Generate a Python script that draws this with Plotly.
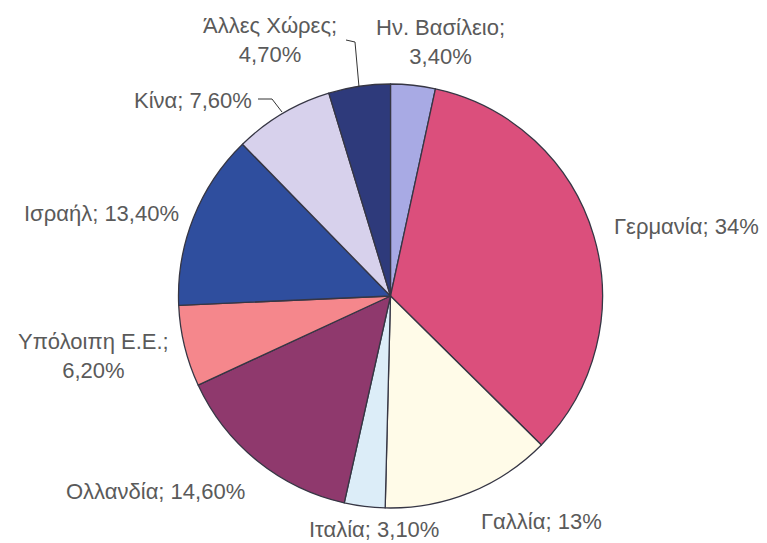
import plotly.graph_objects as go

countries = ["Ην. Βασίλειο", "Γερμανία", "Γαλλία", "Ιταλία", "Ολλανδία",
             "Υπόλοιπη Ε.Ε.", "Ισραήλ", "Κίνα", "Άλλες Χώρες"]
shares = [3.4, 34, 13, 3.1, 14.6, 6.2, 13.4, 7.6, 4.7]
share_labels = ["3,40%", "34%", "13%", "3,10%", "14,60%", "6,20%", "13,40%", "7,60%", "4,70%"]
colors = ["#a8aae4", "#db4f7c", "#fffbe8", "#dcedf8", "#8f396d",
          "#f5878c", "#2f4e9e", "#d7d1ec", "#2e3a7b"]

W, H = 767, 543
OFF = 8  # page body margin


def fx(x):
    return (x - OFF) / W


def fy(y):
    return 1 - (y - OFF) / H


fig = go.Figure(go.Pie(
    labels=countries, values=shares, sort=False, direction="clockwise",
    rotation=0, marker=dict(colors=colors, line=dict(color="#363644", width=1.3)),
    textinfo="none", hoverinfo="label+percent", showlegend=False,
    domain=dict(x=[fx(178), fx(603)], y=[fy(508), fy(84)]),
))

# label placements (pixel centres) and line breaks
label_pos = {
    "Ην. Βασίλειο": (440, 42, True),
    "Γερμανία": (686, 227, False),
    "Γαλλία": (541, 521, False),
    "Ιταλία": (374, 529, False),
    "Ολλανδία": (155, 491, False),
    "Υπόλοιπη Ε.Ε.": (93, 356, True),
    "Ισραήλ": (101, 214, False),
    "Κίνα": (193, 100, False),
    "Άλλες Χώρες": (270, 40, True),
}
font = dict(family="Liberation Sans, Arial, sans-serif", size=22, color="#5a5a5a")
for c, s in zip(countries, share_labels):
    x, y, br = label_pos[c]
    txt = f"{c};<br>{s}" if br else f"{c}; {s}"
    fig.add_annotation(x=fx(x), y=fy(y), xref="paper", yref="paper",
                       xanchor="center", yanchor="middle",
                       text=txt, showarrow=False, font=font, align="center")


# leader lines
def px_path(pts):
    return "M " + " L ".join(f"{fx(x)},{fy(y)}" for x, y in pts)


for pts in ([(346, 40), (355, 42), (359, 87)], [(258, 99), (272, 99), (282, 112)]):
    fig.add_shape(type="path", xref="paper", yref="paper", path=px_path(pts),
                  line=dict(color="#333333", width=1))

fig.update_layout(width=W, height=H, margin=dict(l=0, r=0, t=0, b=0),
                  paper_bgcolor="white", plot_bgcolor="white")
fig.write_html("out.html")
